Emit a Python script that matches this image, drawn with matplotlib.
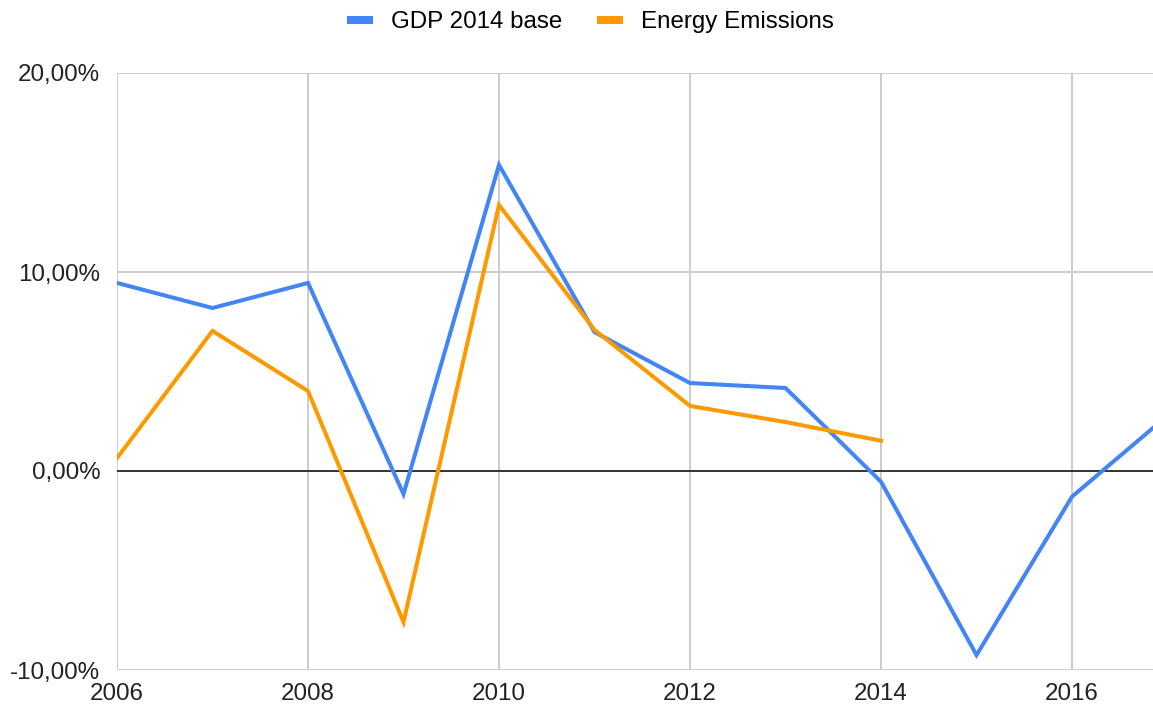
import matplotlib
matplotlib.use("Agg")
import matplotlib.pyplot as plt
from matplotlib.ticker import FuncFormatter, MultipleLocator

years = [2006, 2007, 2008, 2009, 2010, 2011, 2012, 2013, 2014, 2015, 2016, 2017]
gdp = [9.45, 8.19, 9.45, -1.16, 15.38, 6.98, 4.42, 4.17, -0.54, -9.25, -1.29, 2.78]
energy_years = [2006, 2007, 2008, 2009, 2010, 2011, 2012, 2013, 2014]
energy = [0.65, 7.04, 4.02, -7.59, 13.37, 7.09, 3.27, 2.46, 1.52]
series_names = ["GDP 2014 base", "Energy Emissions"]

plt.rcParams['font.family'] = ['Liberation Sans', 'DejaVu Sans']
W, H = 1153, 709
fig = plt.figure(figsize=(W / 100, H / 100), dpi=100)
left, right, top, bottom = 117, 1153, 73, 670
ax = fig.add_axes([left / W, 1 - bottom / H, (right - left) / W, (bottom - top) / H])

ax.plot(years, gdp, color="#4285F4", lw=2.9, label=series_names[0], solid_joinstyle="miter", zorder=4)
ax.plot(energy_years, energy, color="#FF9900", lw=2.9, label=series_names[1], solid_joinstyle="miter", zorder=5)

ax.set_xlim(2006, 2006 + (right - left) / 95.5)
ax.set_ylim(-10, 20)
ax.xaxis.set_major_locator(MultipleLocator(2))
ax.yaxis.set_major_locator(MultipleLocator(10))
ax.yaxis.set_major_formatter(FuncFormatter(lambda v, p: f"{v:.2f}".replace(".", ",") + "%"))
ax.xaxis.set_major_formatter(FuncFormatter(lambda v, p: f"{int(v)}"))
ax.grid(True, color="#cccccc", lw=1.4)
ax.axhline(0, color="#333333", lw=1.4, zorder=3)
for s in ax.spines.values():
    s.set_visible(False)
ax.tick_params(length=0, labelsize=17.4, colors="#222222")
ax.tick_params(axis="y", pad=12)
ax.tick_params(axis="x", pad=9)
ax.set_axisbelow(True)

leg = fig.legend(loc="center", bbox_to_anchor=(0.5 + 14 / W, 1 - 22 / H), ncol=2, frameon=False,
                 fontsize=17.4, handlelength=1.05, handletextpad=0.75, columnspacing=1.45)
for h in leg.get_lines():
    h.set_linewidth(5.8)
    h.set_solid_capstyle("butt")

fig.savefig("out.png", dpi=100)
